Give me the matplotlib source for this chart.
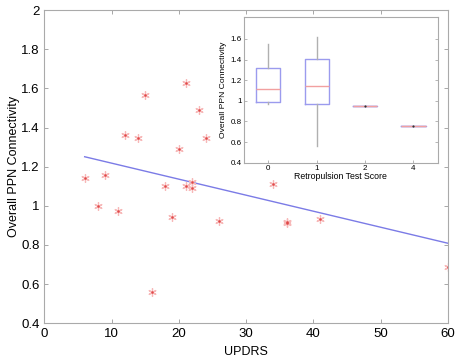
import matplotlib
matplotlib.use('Agg')
import matplotlib.pyplot as plt
import numpy as np
from matplotlib.ticker import FuncFormatter

plt.rcParams['font.family'] = ['Liberation Sans', 'DejaVu Sans']

# main scatter: UPDRS vs overall PPN connectivity
updrs = [6, 8, 9, 11, 12, 14, 15, 16, 18, 19, 20, 21, 21, 22, 22, 23, 24, 26, 34, 36, 36, 41, 60]
ppn = [1.14, 1.00, 1.16, 0.975, 1.36, 1.345, 1.565, 0.56, 1.10, 0.945, 1.29, 1.63, 1.10,
       1.12, 1.09, 1.49, 1.345, 0.92, 1.11, 0.915, 0.91, 0.935, 0.685]

# inset boxplot: retropulsion test score groups
groups = ['0', '1', '2', '4']
whislo = [0.97, 0.56, 0.953, 0.756]
q1 = [0.99, 0.97, 0.953, 0.756]
med = [1.11, 1.14, 0.953, 0.756]
q3 = [1.32, 1.405, 0.953, 0.756]
whishi = [1.55, 1.62, 0.953, 0.756]

fig = plt.figure(figsize=(4.59, 3.6), dpi=100)
ax = fig.add_axes([0.0965, 0.102, 0.8795, 0.870])

# regression line
slope, icpt = np.polyfit(updrs, ppn, 1)
xl = np.array([min(updrs), max(updrs)])
ax.plot(xl, icpt + slope * xl, color='#5a5ae0', lw=1.0, alpha=0.8)

ax.plot(updrs, ppn, ls='none', marker=(6, 2, 0), ms=6, mew=0.9, color='#f7b8b8')
ax.plot(updrs, ppn, ls='none', marker='o', ms=1.8, color='#e04848', mew=0)

ax.set_xlim(0, 60)
ax.set_ylim(0.4, 2)
ax.set_yticks(np.arange(0.4, 2.01, 0.2))
ax.yaxis.set_major_formatter(FuncFormatter(lambda v, p: '%g' % round(v, 1)))
ax.tick_params(direction='in', top=True, right=True, labelsize=9.5, length=3, width=0.6, color='#999999')
for s in ax.spines.values():
    s.set_color('#aaaaaa')
    s.set_linewidth(0.8)
ax.set_xlabel('UPDRS', fontsize=9, labelpad=4)
ax.set_ylabel('Overall PPN Connectivity', fontsize=9, labelpad=1)

# inset
ins = fig.add_axes([0.532, 0.548, 0.4214, 0.404])
stats = []
for i in range(len(groups)):
    stats.append(dict(label=groups[i], whislo=whislo[i], q1=q1[i], med=med[i],
                      q3=q3[i], whishi=whishi[i], fliers=[]))
ins.bxp(stats, positions=[1, 2, 3, 4], widths=0.5, showcaps=False,
        boxprops=dict(color='#9b9bee', lw=1.0),
        whiskerprops=dict(color='#b0b0b0', lw=1.0, ls='-'),
        medianprops=dict(color='#f2a0a0', lw=1.0, zorder=5))
ins.plot([3, 4], [med[2], med[3]], ls='none', marker='o', ms=1.6, mew=0, color='#333333', zorder=6)
ins.set_xlim(0.5, 4.5)
ins.set_ylim(0.4, 1.81)
ins.set_yticks(np.arange(0.4, 1.61, 0.2))
ins.yaxis.set_major_formatter(FuncFormatter(lambda v, p: '%g' % round(v, 1)))
ins.tick_params(direction='in', right=True, labelsize=5.8, length=2, width=0.5, color='#999999', pad=2)
for s in ins.spines.values():
    s.set_color('#aaaaaa')
    s.set_linewidth(0.8)
ins.set_xlabel('Retropulsion Test Score', fontsize=6.3, labelpad=0)
ins.set_ylabel('Overall PPN Connectivity', fontsize=6.1, labelpad=2)

fig.savefig('out.png', dpi=100)
